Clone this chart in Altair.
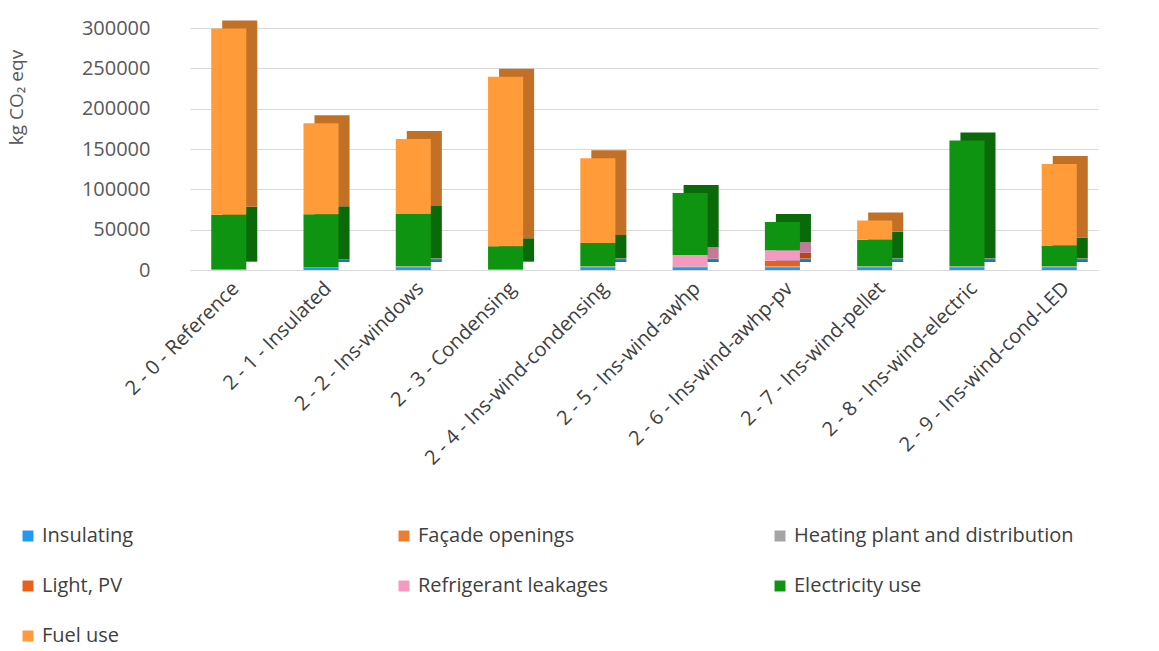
import altair as alt
import pandas as pd

categories = ["2 - 0 - Reference", "2 - 1 - Insulated", "2 - 2 - Ins-windows", "2 - 3 - Condensing",
              "2 - 4 - Ins-wind-condensing", "2 - 5 - Ins-wind-awhp", "2 - 6 - Ins-wind-awhp-pv",
              "2 - 7 - Ins-wind-pellet", "2 - 8 - Ins-wind-electric", "2 - 9 - Ins-wind-cond-LED"]

series = ["Insulating", "Façade openings", "Heating plant and distribution", "Light, PV",
          "Refrigerant leakages", "Electricity use", "Fuel use"]
colors = ["#1E9BF0", "#ED7D31", "#A5A5A5", "#E8611A", "#F49AC1", "#0E9410", "#FF9B38"]
side_colors = ["#1677BA", "#B85E22", "#7F7F7F", "#B04A10", "#C4789A", "#0A6A0A", "#C27026"]

insulating   = [0, 2500, 2500, 0, 2500, 2500, 2500, 2500, 2500, 2500]
facade       = [0, 0, 1500, 0, 1500, 1500, 1500, 1500, 1500, 1500]
heating      = [500, 500, 500, 500, 500, 500, 500, 500, 500, 500]
light_pv     = [0, 0, 0, 0, 0, 0, 7000, 0, 0, 0]
refrigerant  = [0, 0, 0, 0, 0, 14000, 13000, 0, 0, 0]
electricity  = [68000, 66000, 65000, 29000, 29000, 77000, 35000, 33000, 156000, 26000]
fuel         = [231000, 113000, 93000, 210000, 105000, 0, 0, 24000, 0, 101000]

values = [insulating, facade, heating, light_pv, refrigerant, electricity, fuel]

rows = []
for si, (s, vals) in enumerate(zip(series, values)):
    for c, v in zip(categories, vals):
        rows.append({"Scenario": c, "Component": s, "Value": v, "order": si})
df = pd.DataFrame(rows)

x_enc = alt.X("Scenario:N", sort=categories, title=None,
              scale=alt.Scale(paddingInner=0.62, paddingOuter=0.23),
              axis=alt.Axis(labelAngle=-45, labelFontSize=20, labelColor="#404040",
                            labelFont="Open Sans", domain=False, ticks=False,
                            labelPadding=8, labelLimit=400))
y_enc = alt.Y("Value:Q", stack="zero", title="kg CO\u2082 eqv",
              scale=alt.Scale(domain=[0, 300000]),
              axis=alt.Axis(values=[0, 50000, 100000, 150000, 200000, 250000, 300000],
                            format="d", labelFontSize=20, labelColor="#595959",
                            labelFont="Open Sans", labelPadding=40,
                            domain=False, ticks=False, gridColor="#D9D9D9",
                            titleFontSize=19, titleColor="#595959", titleFont="Open Sans",
                            titleFontWeight="normal", titleX=-164, titleY=69))
order_enc = alt.Order("order:Q", sort="ascending")

back = alt.Chart(df).mark_bar(xOffset=11, x2Offset=11, yOffset=-8, y2Offset=-8).encode(
    x=x_enc, y=y_enc,
    color=alt.Color("Component:N", sort=series,
                    scale=alt.Scale(domain=series, range=side_colors), legend=None),
    order=order_enc,
)

front = alt.Chart(df).mark_bar().encode(
    x=x_enc, y=y_enc,
    color=alt.Color("Component:N", sort=series,
                    scale=alt.Scale(domain=series, range=colors),
                    legend=alt.Legend(title=None, orient="none", legendX=-172, legendY=498,
                                      direction="horizontal", columns=3, gridAlign="all",
                                      symbolType="square", symbolSize=120, symbolStrokeWidth=0,
                                      labelFontSize=20, labelFont="Open Sans", labelColor="#404040",
                                      columnPadding=72, rowPadding=30, labelLimit=400)),
    order=order_enc,
)

chart = alt.layer(back, front).resolve_scale(color="independent").properties(
    width=908, height=242,
    autosize=alt.AutoSizeParams(type="none"),
    padding={"left": 190, "top": 28, "right": 61, "bottom": 381},
).configure_view(stroke=None)

chart.save("out.html", embed_options={"renderer": "svg", "actions": False})
